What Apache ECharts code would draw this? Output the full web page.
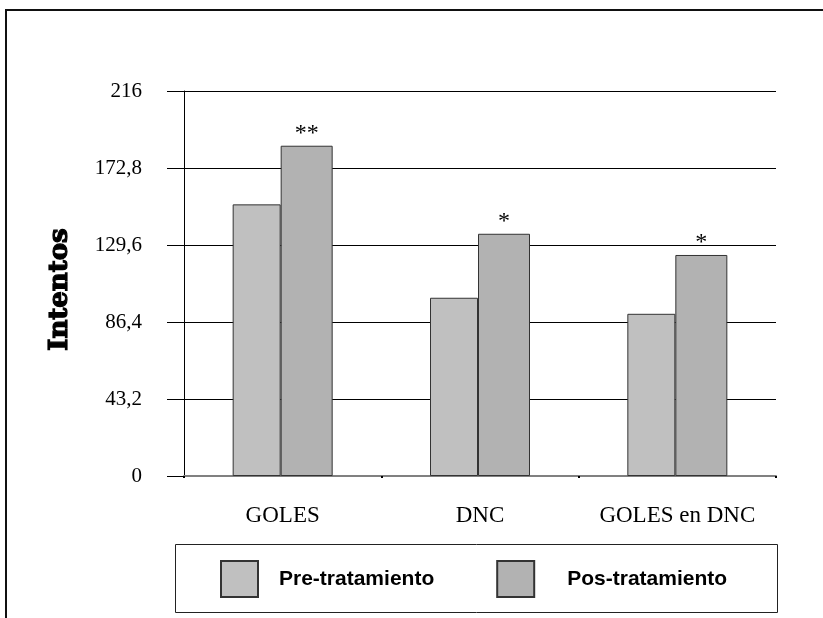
<!DOCTYPE html>
<html>
<head>
<meta charset="utf-8">
<script src="https://cdn.jsdelivr.net/npm/echarts@6/dist/echarts.min.js"></script>
<style>
html,body{margin:0;padding:0;background:#fff;}
#chart{width:823px;height:618px;}
</style>
</head>
<body>
<div id="chart"></div>
<script>
// ---- data ----
const categories = ['GOLES', 'DNC', 'GOLES en DNC'];
const preValues = [152.4, 100.0, 91.0];
const posValues = [185.3, 135.9, 124.0];
const posMarks = ['**', '*', '*'];
const yTickLabels = ['0', '43,2', '86,4', '129,6', '172,8', '216'];
const seriesNames = ['Pre-tratamiento', 'Pos-tratamiento'];
const yAxisTitle = 'Intentos';

const chart = echarts.init(document.getElementById('chart'), null, {renderer: 'canvas'});

const option = {
  backgroundColor: '#ffffff',
  animation: false,
  graphic: [
    {type: 'rect', shape: {x: 6, y: 10, width: 840, height: 640},
     style: {fill: 'none', stroke: '#111', lineWidth: 2}, z: 0},
    {type: 'rect', shape: {x: 175.5, y: 544.5, width: 602, height: 68},
     style: {fill: 'none', stroke: '#222', lineWidth: 1}, z: 0}
  ],
  grid: {left: 184, right: 47, top: 91, bottom: 142, containLabel: false},
  legend: {
    left: 220, top: 560, padding: 0,
    itemWidth: 37, itemHeight: 36, itemGap: 62,
    icon: 'rect',
    data: [
      {name: seriesNames[0], textStyle: {padding: [0, 0, 0, 16]}},
      {name: seriesNames[1], textStyle: {padding: [0, 0, 0, 28]}}
    ],
    textStyle: {fontFamily: 'Liberation Sans, Arial, sans-serif', fontWeight: 'bold', fontSize: 21, color: '#000'}
  },
  xAxis: {
    type: 'category',
    data: categories,
    axisLine: {show: true, lineStyle: {color: '#808080', width: 2}},
    axisTick: {show: true, length: 2, lineStyle: {color: '#000', width: 2}},
    axisLabel: {interval: 0, fontFamily: 'Liberation Serif, Times New Roman, serif', fontSize: 23, color: '#000', margin: 28}
  },
  yAxis: {
    type: 'value',
    min: 0, max: 216, interval: 43.2,
    name: yAxisTitle,
    nameLocation: 'middle',
    nameGap: 111,
    nameRotate: 90,
    nameTextStyle: {
      fontFamily: 'DejaVu Serif, serif', fontWeight: 'bold',
      fontSize: 26, color: '#000', textBorderColor: '#000', textBorderWidth: 1.2,
      padding: [0, 12, 0, 0]
    },
    axisLine: {show: true, lineStyle: {color: '#000', width: 1}},
    axisTick: {show: true, length: 17, lineStyle: {color: '#000', width: 1}},
    splitLine: {show: true, lineStyle: {color: '#000', width: 1}},
    axisLabel: {
      fontFamily: 'Liberation Serif, Times New Roman, serif', fontSize: 21, color: '#000', margin: 42,
      formatter: function (v, i) { return yTickLabels[i]; }
    }
  },
  series: [
    {
      name: seriesNames[0], type: 'bar', data: preValues,
      barWidth: 48, barGap: '0%',
      itemStyle: {color: '#c0c0c0', borderColor: '#333', borderWidth: 1}
    },
    {
      name: seriesNames[1], type: 'bar', data: posValues,
      barWidth: 52, barGap: '0%',
      itemStyle: {color: '#b2b2b2', borderColor: '#333', borderWidth: 1},
      label: {
        show: true, position: 'top', distance: 0,
        fontFamily: 'Liberation Serif, Times New Roman, serif', fontSize: 24, color: '#000',
        formatter: function (p) { return posMarks[p.dataIndex]; }
      }
    }
  ]
};
chart.setOption(option);
</script>
</body>
</html>
